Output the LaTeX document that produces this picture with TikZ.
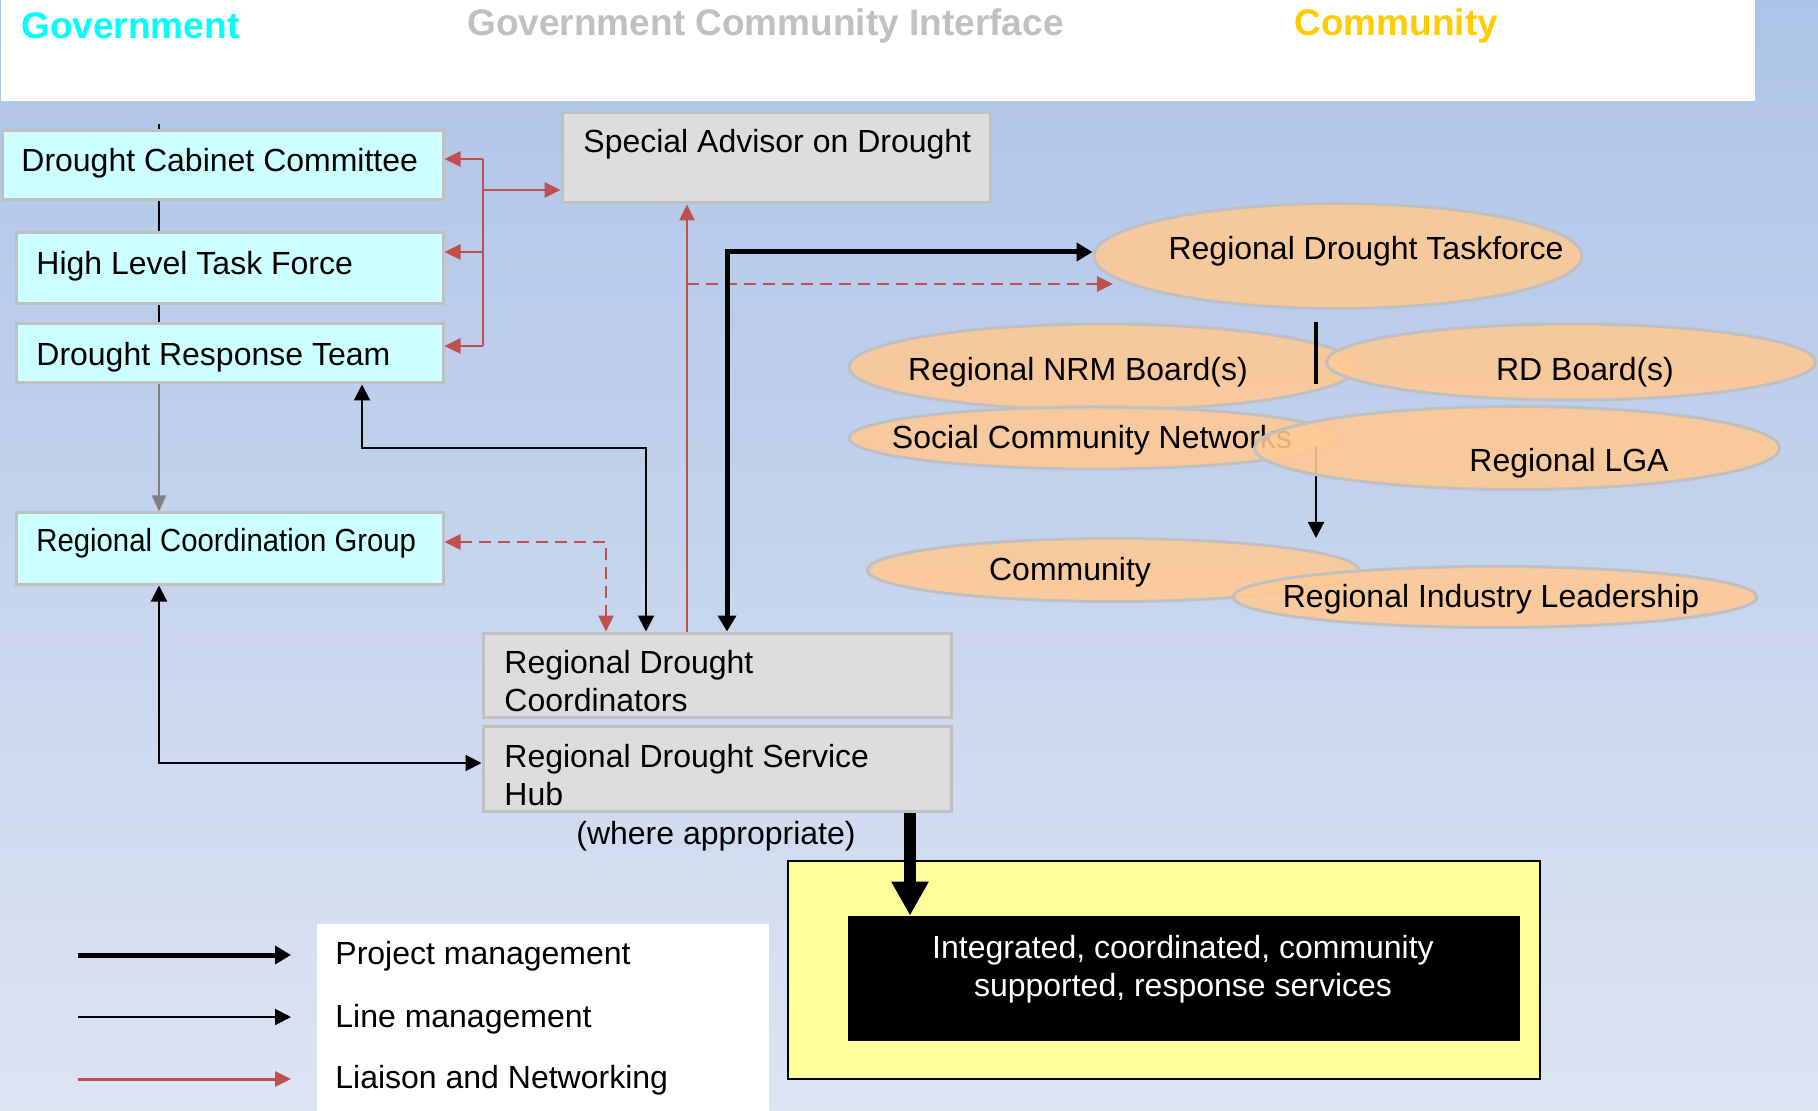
\documentclass[tikz,border=0pt]{standalone}
\usepackage{fontspec}
\usepackage{graphicx}
\setmainfont{Liberation Sans}
\usetikzlibrary{arrows.meta,shapes.geometric}
\definecolor{bgtop}{RGB}{173,196,232}
\definecolor{bgbot}{RGB}{221,228,242}
\definecolor{cyanbox}{RGB}{204,255,255}
\definecolor{graybox}{RGB}{221,221,221}
\definecolor{bordergray}{RGB}{192,192,192}
\definecolor{liaisonred}{RGB}{192,80,77}
\definecolor{peach}{RGB}{255,201,147}
\definecolor{paleyellow}{RGB}{255,255,153}
\definecolor{hdrcyan}{RGB}{0,255,255}
\definecolor{hdrgray}{RGB}{192,192,192}
\definecolor{hdrgold}{RGB}{255,204,0}
\definecolor{arrowgray}{RGB}{128,128,128}
\begin{document}
\begin{tikzpicture}[x=0.5pt,y=-0.5pt,
  boxtext/.style={font=\fontsize{16}{19}\selectfont, inner sep=0pt, align=left, anchor=west},
  hdr/.style={font=\fontsize{18.5}{22}\selectfont\bfseries, inner sep=0pt, anchor=west},
  cbox/.style={rectangle, draw=bordergray, line width=1.5pt, fill=cyanbox, inner sep=0pt},
  gbox/.style={rectangle, draw=bordergray, line width=1.5pt, fill=graybox, inner sep=0pt},
  oval/.style={ellipse, draw=bordergray, line width=1.5pt, fill=peach, fill opacity=0.88, inner sep=0pt},
  liaison/.style={draw=liaisonred, line width=1.3pt, >={Triangle[length=8pt,width=7.5pt]}},
  linem/.style={draw=black, line width=1pt, >={Triangle[length=8pt,width=8pt]}},
  projm/.style={draw=black, line width=2.5pt, >={Triangle[length=8pt,width=9pt]}},
  redash/.style={dash pattern=on 6pt off 3.5pt}
]
\useasboundingbox (0,0) rectangle (1818,1111);
% background
\shade[top color=bgtop, bottom color=bgbot] (0,0) rectangle (1818,1111);
\node[rectangle, fill=white, inner sep=0pt, minimum width=877pt, minimum height=50.5pt, anchor=north west] (head) at (1,0) {};
\node[hdr, text=hdrcyan] (hgov) at (21,26) {Government};
\node[hdr, text=hdrgray] (hgci) at (467,26) {Government Community Interface};
\node[hdr, text=hdrgold] (hcom) at (1294,26) {Community};

% government boxes
\node[cbox, minimum width=220.5pt, minimum height=34.5pt] (dcc) at (222.5,165.5) {};
\node[cbox, minimum width=213.5pt, minimum height=35.5pt] (hltf) at (229.5,268.5) {};
\node[cbox, minimum width=213.5pt, minimum height=29.5pt] (drt) at (229.5,353.5) {};
\node[cbox, minimum width=213.5pt, minimum height=35.5pt] (rcg) at (229.5,548.5) {};
\node[boxtext] (dcct) at (21,163.5) {Drought Cabinet Committee};
\node[boxtext] (hltft) at (36,266.5) {High Level Task Force};
\node[boxtext] (drtt) at (36,357.5) {Drought Response Team};
\node[boxtext] (rcgt) at (36,543.5) {\scalebox{0.916}[1]{Regional Coordination Group}};

% interface boxes
\node[gbox, minimum width=214pt, minimum height=45pt] (sad) at (776,158) {};
\node[gbox, minimum width=234pt, minimum height=42pt] (rdc) at (717,675) {};
\node[gbox, minimum width=234pt, minimum height=42.5pt] (rdsh) at (717,768.5) {};
\node[boxtext] (sadt) at (583,144.5) {Special Advisor on Drought};
\node[boxtext] (rdct) at (504,681) {Regional Drought\\Coordinators};
\node[boxtext] (rdsht) at (504,775) {Regional Drought Service\\Hub};
\node[boxtext, anchor=center] (wat) at (716,836.5) {(where appropriate)};

% result box
\node[rectangle, draw=black, line width=1.2pt, fill=paleyellow, inner sep=0pt, minimum width=376pt, minimum height=109pt] (ybox) at (1164,970) {};
\node[rectangle, fill=black, inner sep=0pt, minimum width=336pt, minimum height=62.5pt] (blk) at (1184,978.5) {};
\node[boxtext, anchor=center, align=center, text=white] (blkt) at (1183,969.5) {Integrated, coordinated, community\\supported, response services};

% legend
\node[rectangle, fill=white, inner sep=0pt, minimum width=226pt, minimum height=93.5pt, anchor=north west] (leg) at (317,924) {};
\node[boxtext] (leg1) at (335,956.5) {Project management};
\node[boxtext] (leg2) at (335,1019.5) {Line management};
\node[boxtext] (leg3) at (335,1080.5) {Liaison and Networking};
\coordinate (la1) at (78,955);  \coordinate (la2) at (291,955);
\coordinate (lb1) at (78,1017); \coordinate (lb2) at (291,1017);
\coordinate (lr1) at (78,1079); \coordinate (lr2) at (291,1079);
\draw[projm,->] (la1) -- (la2);
\draw[linem,->] (lb1) -- (lb2);
\draw[liaison,->,line width=1.5pt] (lr1) -- (lr2);

% government hierarchy lines
\coordinate (vx) at (159,0);
\coordinate (tick) at (159,124);
\draw[line width=0.6pt] (tick) -- (dcc.north -| vx);
\draw[line width=1pt] (dcc.south -| vx) -- (hltf.north -| vx);
\draw[line width=1pt] (hltf.south -| vx) -- (drt.north -| vx);
\draw[draw=arrowgray, line width=1pt, -{Triangle[length=8pt,width=7pt]}] (drt.south -| vx) -- (rcg.north -| vx);

% red bracket (liaison)
\coordinate (rb1) at (483,159);
\coordinate (rb2) at (483,190);
\coordinate (rb3) at (483,252);
\coordinate (rb4) at (483,346);
\draw[liaison] (rb1) -- (rb4);
\draw[liaison,->] (rb1) -- (rb1 -| dcc.east);
\draw[liaison,->] (rb2) -- (rb2 -| sad.west);
\draw[liaison,->] (rb3) -- (rb3 -| hltf.east);
\draw[liaison,->] (rb4) -- (rb4 -| drt.east);

% ellipses (community)
\node[oval, minimum width=244pt, minimum height=52.5pt] (rtf) at (1338,256) {};
\node[boxtext, anchor=center] (rtft) at (1366,251.5) {Regional Drought Taskforce};
\node[oval, minimum width=254pt, minimum height=43pt] (nrm) at (1103,367) {};
\node[boxtext, anchor=center] (nrmt) at (1078,372.5) {Regional NRM Board(s)};
\node[oval, minimum width=244.5pt, minimum height=38pt] (rdb) at (1571,362) {};
\node[boxtext, anchor=center] (rdbt) at (1585,372.5) {RD Board(s)};
\coordinate (eb1) at (1316,322); \coordinate (eb2) at (1316,384);
\draw[line width=2pt] (eb1) -- (eb2);
\node[oval, minimum width=245pt, minimum height=31pt] (scn) at (1094,438) {};
\node[boxtext, anchor=center] (scnt) at (1092,440.5) {Social Community Networks};
\coordinate (ea1) at (1316,447); \coordinate (ea2) at (1316,538);
\draw[linem,->] (ea1) -- (ea2);
\node[oval, minimum width=262.5pt, minimum height=41.5pt] (lga) at (1517,448) {};
\node[boxtext, anchor=center] (lgat) at (1569,463.5) {Regional LGA};
\node[oval, minimum width=245.5pt, minimum height=31.5pt] (com) at (1113,570) {};
\node[boxtext, anchor=center] (comt) at (1070,572.5) {Community};
\node[oval, minimum width=262pt, minimum height=30.5pt] (ril) at (1495,597) {};
\node[boxtext, anchor=center] (rilt) at (1491,599.5) {Regional Industry Leadership};

% connectors
\coordinate (rv) at (687,0);
\draw[liaison,->] (rdc.north -| rv) -- (sad.south -| rv);
\coordinate (rdend) at (1113,284);
\draw[liaison,redash,->] (rv |- rdend) -- (rdend);
\coordinate (pj) at (727,0);
\coordinate (tfin) at ([yshift=2pt]rtf.west);
\draw[projm,<->] (rdc.north -| pj) -- (pj |- tfin) -- (tfin);
\coordinate (lm1) at (362,448); \coordinate (lm2) at (646,448);
\draw[linem,<->] (lm1 |- drt.south) -- (lm1) -- (lm2) -- (lm2 |- rdc.north);
\coordinate (rd) at (606,542);
\draw[liaison,redash,<->] (rd -| rcg.east) -- (rd) -- (rd |- rdc.north);
\coordinate (lcx) at (159,763);
\draw[linem,<->] (lcx |- rcg.south) -- (lcx) -- (lcx -| rdsh.west);
\coordinate (ba) at (910,0);
\draw[line width=6pt, -{Triangle[length=17pt,width=17.5pt]}] (ba |- rdsh.south) -- (ba |- blk.north);
\end{tikzpicture}
\end{document}
